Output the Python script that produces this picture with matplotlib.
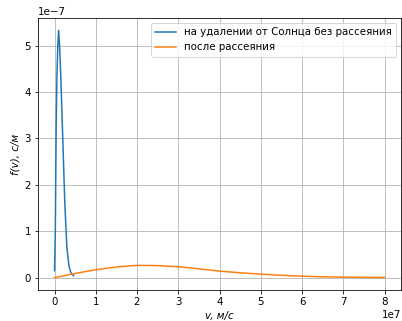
import matplotlib
matplotlib.use("Agg")
import matplotlib.pyplot as plt
import numpy as np

plt.rcParams["font.size"] = 10.3

# Blue curve: speeds (m/s) and f(v) (s/m)
v_sun = np.array([0.0, 0.2, 0.4, 0.6, 0.8, 1.0, 1.2, 1.5, 2.0, 2.5, 3.0, 3.5, 4.0, 4.65]) * 1e6
f_sun = np.array([0.15, 1.0, 3.2, 4.4, 5.0, 5.33, 5.05, 4.4, 3.0, 1.6, 0.65, 0.25, 0.1, 0.04]) * 1e-7

# Orange curve
v_sc = np.array([0, 0.5, 1.0, 1.5, 2.0, 2.5, 3.0, 3.5, 4.0, 4.5, 5.0, 5.5, 6.0, 6.5, 7.0, 7.5, 8.0]) * 1e7
f_sc = np.array([0, 0.9, 1.7, 2.3, 2.65, 2.6, 2.35, 1.9, 1.4, 1.05, 0.75, 0.5, 0.32, 0.18, 0.1, 0.06, 0.04]) * 1e-8

labels = ["на удалении от Солнца без рассеяния", "после рассеяния"]

fig = plt.figure(figsize=(402 / 72, 321 / 72), dpi=72)
ax = fig.add_axes([38 / 402, 31 / 321, 363 / 402, 272 / 321])
ax.plot(v_sun, f_sun, label=labels[0])
ax.plot(v_sc, f_sc, label=labels[1])
ax.grid(True)
ax.legend(loc="upper right")
ax.set_xlabel("v, м/с", style="italic")
ax.set_ylabel("f(v), с/м", style="italic")
fig.savefig("out.png", dpi=72)
